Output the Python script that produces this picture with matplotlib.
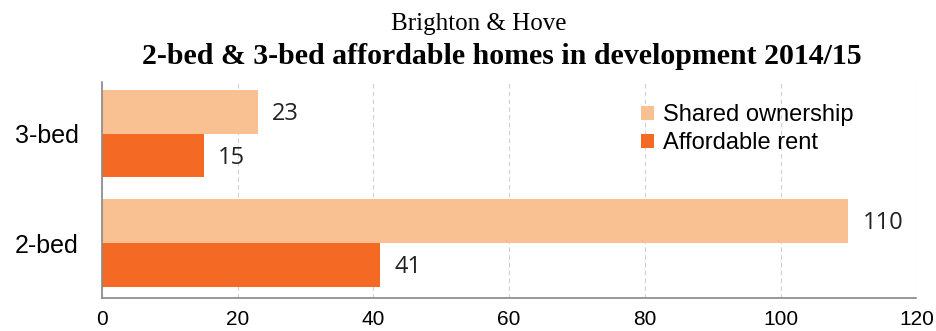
"""
Affordable homes in development, Brighton & Hove 2014/15
"""

import matplotlib.pyplot as plt
from matplotlib import font_manager

categories = ['2-bed', '3-bed']
shared_ownership = [110, 23]
affordable_rent = [41, 15]
x_ticks = [0, 20, 40, 60, 80, 100, 120]

LIGHT = '#F9C091'
DARK = '#F46923'


def pick_font(names):
    installed = {f.name for f in font_manager.fontManager.ttflist}
    for name in names:
        if name in installed:
            return name
    return 'DejaVu Sans'


narrow = pick_font(['Liberation Sans Narrow', 'Liberation Sans'])
serif = pick_font(['Liberation Serif', 'DejaVu Serif'])

fig = plt.figure(figsize=(9.36, 3.31), dpi=100)
ax = fig.add_axes([0.109, 0.1, 0.87, 0.652])

bar_h = 0.4
ypos = list(range(len(categories)))
top = [y + bar_h / 2 for y in ypos]
bottom = [y - bar_h / 2 for y in ypos]

ax.barh(top, shared_ownership, height=bar_h, color=LIGHT, label='Shared ownership')
ax.barh(bottom, affordable_rent, height=bar_h, color=DARK, label='Affordable rent')

# value labels just past the end of each bar
for y, v in zip(top, shared_ownership):
    ax.text(v + 2.1, y - 0.02, str(v), va='center', ha='left', fontsize=17,
            family='Open Sans', color='#222222')
for y, v in zip(bottom, affordable_rent):
    ax.text(v + 2.1, y - 0.02, str(v), va='center', ha='left', fontsize=17,
            family='Open Sans', color='#222222')

ax.set_xlim(0, 120)
ax.set_ylim(-0.5, 1.47)
ax.set_xticks(x_ticks)
ax.set_xticklabels([str(t) for t in x_ticks], family=narrow, fontsize=15)
ax.set_yticks(ypos)
ax.set_yticklabels(categories, family='Liberation Sans', fontsize=18)
ax.tick_params(axis='x', length=0, pad=9)
ax.tick_params(axis='y', length=0, pad=17)

ax.grid(axis='x', linestyle=(0, (4, 3)), color='#D0D0D0', linewidth=0.8)
ax.set_axisbelow(True)
for side in ['top', 'right']:
    ax.spines[side].set_visible(False)
ax.spines['left'].set_color('#888888')
ax.spines['bottom'].set_color('#888888')
ax.spines['left'].set_linewidth(1.2)
ax.spines['bottom'].set_linewidth(1.2)

leg = ax.legend(loc='upper left', bbox_to_anchor=(0.645, 0.962), frameon=False,
                handlelength=0.55, handleheight=0.55, handletextpad=0.35,
                labelspacing=0.25, borderaxespad=0.2,
                prop={'family': 'Liberation Sans', 'size': 17})

fig.text(0.511, 0.927, 'Brighton & Hove', ha='center', va='center',
         family=serif, fontsize=18)
fig.text(0.536, 0.828, '2-bed & 3-bed affordable homes in development 2014/15',
         ha='center', va='center', family=serif, fontsize=21.5, fontweight='bold')

fig.savefig('out.png', dpi=100)
